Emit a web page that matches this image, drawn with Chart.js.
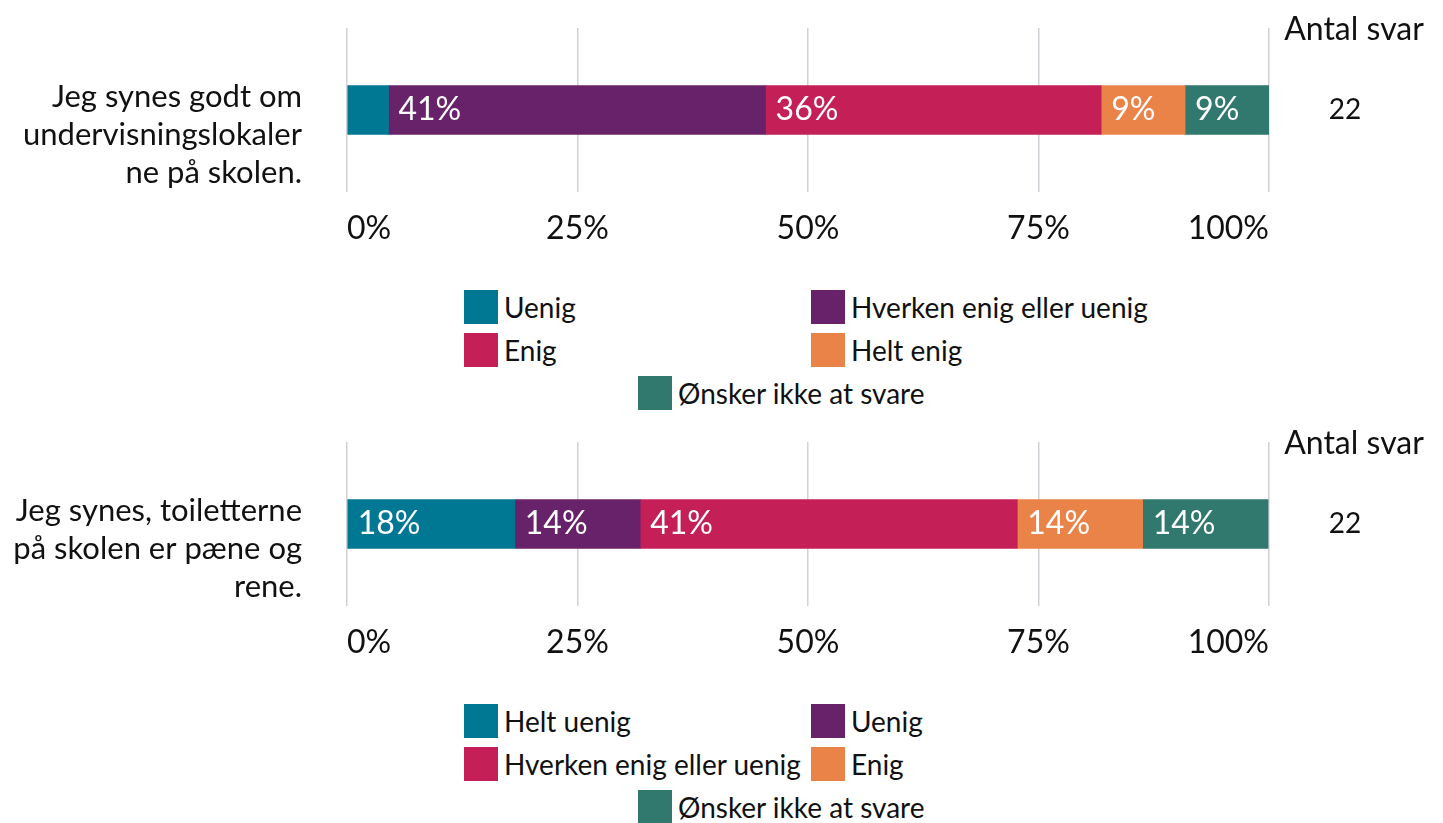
<!DOCTYPE html>
<html>
<head>
<meta charset="utf-8">
<script src="https://cdn.jsdelivr.net/npm/chart.js@4"></script>
<style>
  body { margin: 0; background: #fff; font-family: Lato, sans-serif; }
  .block { position: absolute; left: 0; width: 1443px; height: 414px; }
  .block canvas { position: absolute; left: 0; top: 0; }
  .legend { position: absolute; left: 464px; top: 290px; width: 760px; height: 130px; }
  .item { position: absolute; display: flex; align-items: center; font-size: 28px; color: #111; white-space: nowrap; }
  .sw { width: 34px; height: 34px; margin-right: 6px; }
</style>
</head>
<body>
<div class="block" id="b1" style="top:0"><canvas id="c1" width="1443" height="260"></canvas><div class="legend" id="l1"></div></div>
<div class="block" id="b2" style="top:414px"><canvas id="c2" width="1443" height="260"></canvas><div class="legend" id="l2"></div></div>
<script>
// question 1
const q1Label = ["Jeg synes godt om", "undervisningslokaler", "ne på skolen."];
const q1Cats = ["Uenig", "Hverken enig eller uenig", "Enig", "Helt enig", "Ønsker ikke at svare"];
const q1Values = [4.5, 40.9, 36.4, 9.1, 9.1];
const q1Count = 22;

// question 2
const q2Label = ["Jeg synes, toiletterne", "på skolen er pæne og", "rene."];
const q2Cats = ["Helt uenig", "Uenig", "Hverken enig eller uenig", "Enig", "Ønsker ikke at svare"];
const q2Values = [18.2, 13.6, 40.9, 13.6, 13.6];
const q2Count = 22;

const xTicks = [0, 25, 50, 75, 100];
const colors = ["#007894", "#68226A", "#C42057", "#EA8348", "#31786E"];

// white % labels inside segments
const segLabels = {
  id: "segLabels",
  afterDatasetsDraw(chart) {
    const ctx = chart.ctx;
    ctx.save();
    ctx.font = "32px Lato";
    ctx.fillStyle = "#fff";
    ctx.textAlign = "left";
    ctx.textBaseline = "middle";
    chart.data.datasets.forEach((ds, i) => {
      const v = ds.data[0];
      if (v < 5) return;
      const bar = chart.getDatasetMeta(i).data[0];
      ctx.fillText(Math.round(v) + "%", bar.base + 10, bar.y);
    });
    ctx.restore();
  }
};

// "Antal svar" column on the right
const antal = {
  id: "antal",
  afterDraw(chart, args, opts) {
    const ctx = chart.ctx;
    const a = chart.chartArea;
    const bar = chart.getDatasetMeta(0).data[0];
    ctx.save();
    ctx.fillStyle = "#111";
    ctx.textAlign = "center";
    ctx.textBaseline = "middle";
    ctx.font = "32px Lato";
    ctx.fillText("Antal svar", a.right + 85, a.top + 2);
    ctx.font = "28px Lato";
    ctx.fillText(String(opts.count), a.right + 76, bar.y);
    ctx.restore();
  }
};

function makeChart(id, label, cats, values, count) {
  new Chart(document.getElementById(id), {
    type: "bar",
    data: {
      labels: [label],
      datasets: cats.map((c, i) => ({
        label: c,
        data: [values[i]],
        backgroundColor: colors[i],
        borderWidth: 0,
        barThickness: 49
      }))
    },
    options: {
      indexAxis: "y",
      responsive: false,
      animation: false,
      layout: { padding: { top: 28, right: 174, left: 0, bottom: 0 } },
      plugins: { legend: { display: false }, tooltip: { enabled: false }, antal: { count } },
      scales: {
        x: {
          stacked: true,
          min: 0,
          max: 100,
          afterBuildTicks: s => { s.ticks = xTicks.map(v => ({ value: v })); },
          afterFit: s => { s.height = 68; s.paddingLeft = 0; s.paddingRight = 0; },
          grid: { color: "#cfd2d6", lineWidth: 1.5, drawTicks: false },
          border: { display: false },
          ticks: {
            align: "inner",
            padding: 17,
            color: "#111",
            font: { family: "Lato", size: 32 },
            callback: v => v + "%"
          }
        },
        y: {
          stacked: true,
          afterFit: s => { s.width = 347; s.paddingTop = 0; s.paddingBottom = 0; },
          grid: { display: false },
          border: { display: false },
          ticks: {
            padding: 37,
            labelOffset: 25,
            color: "#111",
            font: { family: "Lato", size: 31, lineHeight: 1.24 }
          }
        }
      }
    },
    plugins: [segLabels, antal]
  });
}

function makeLegend(id, cats) {
  const el = document.getElementById(id);
  cats.forEach((c, i) => {
    const d = document.createElement("div");
    d.className = "item";
    const left = i === 4 ? 174 : (i % 2) * 347;
    d.style.left = left + "px";
    d.style.top = Math.floor(i / 2) * 43 + "px";
    d.innerHTML = '<span class="sw" style="background:' + colors[i] + '"></span><span>' + c + "</span>";
    el.appendChild(d);
  });
}

document.fonts.load("32px Lato").then(() => {
  makeChart("c1", q1Label, q1Cats, q1Values, q1Count);
  makeChart("c2", q2Label, q2Cats, q2Values, q2Count);
  makeLegend("l1", q1Cats);
  makeLegend("l2", q2Cats);
});
</script>
</body>
</html>
